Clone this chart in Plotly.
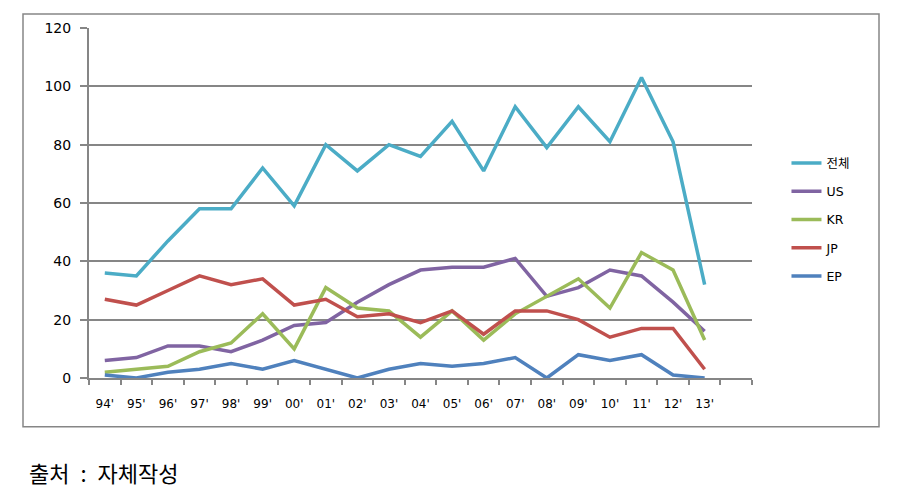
import plotly.graph_objects as go

years = ["94'", "95'", "96'", "97'", "98'", "99'", "00'", "01'", "02'", "03'",
         "04'", "05'", "06'", "07'", "08'", "09'", "10'", "11'", "12'", "13'"]
total = [36, 35, 47, 58, 58, 72, 59, 80, 71, 80, 76, 88, 71, 93, 79, 93, 81, 103, 81, 32]
us = [6, 7, 11, 11, 9, 13, 18, 19, 26, 32, 37, 38, 38, 41, 28, 31, 37, 35, 26, 16]
kr = [2, 3, 4, 9, 12, 22, 10, 31, 24, 23, 14, 23, 13, 22, 28, 34, 24, 43, 37, 13]
jp = [27, 25, 30, 35, 32, 34, 25, 27, 21, 22, 19, 23, 15, 23, 23, 20, 14, 17, 17, 3]
ep = [1, 0, 2, 3, 5, 3, 6, 3, 0, 3, 5, 4, 5, 7, 0, 8, 6, 8, 1, 0]

series = [
    ("전체", total, "#4BACC6"),
    ("US", us, "#8064A2"),
    ("KR", kr, "#9BBB59"),
    ("JP", jp, "#C0504D"),
    ("EP", ep, "#4F81BD"),
]

idx = list(range(len(years)))
fig = go.Figure()
for name, vals, color in series:
    fig.add_trace(go.Scatter(
        x=idx, y=vals, name=name, mode="lines", legendgroup=name,
        line=dict(color=color, width=3.5),
    ))

grid = "#868686"
# page body has an 8px margin, so the figure is 8px smaller on each axis
fig.update_layout(
    width=890, height=484,
    margin=dict(l=81, r=146, t=18, b=114),
    plot_bgcolor="white", paper_bgcolor="white",
    font=dict(family="DejaVu Sans", color="black"),
    showlegend=True,
    legend=dict(x=1.052, y=0.452, xanchor="left", yanchor="middle",
                font=dict(size=12.5, family="DejaVu Sans, Noto Sans CJK KR"),
                tracegroupgap=9, bgcolor="rgba(0,0,0,0)"),
    xaxis=dict(
        range=[-0.5, len(years) + 0.5],
        tickmode="array", tickvals=idx, ticktext=years,
        ticks="", ticklabelstandoff=14,
        tickfont=dict(size=12),
        showgrid=False, zeroline=False,
        showline=True, linecolor=grid, linewidth=2,
        minor=dict(tickmode="array",
                   tickvals=[i - 0.5 for i in range(len(years) + 2)],
                   ticks="outside", ticklen=5, tickcolor=grid, tickwidth=1.5,
                   showgrid=False),
    ),
    yaxis=dict(
        range=[0, 120], dtick=20, tick0=0,
        showgrid=True, gridcolor=grid, gridwidth=2,
        ticks="outside", ticklen=7, tickcolor=grid, tickwidth=2,
        tickfont=dict(size=14), ticklabelstandoff=6,
        showline=True, linecolor=grid, linewidth=2,
        zeroline=False,
    ),
    shapes=[dict(type="rect", xref="paper", yref="paper",
                 x0=(23 - 89) / 663, x1=(879 - 89) / 663,
                 y0=(378 - 427) / 352, y1=(378 - 12) / 352,
                 line=dict(color=grid, width=1.5), layer="below")],
    annotations=[dict(text="출처\u2002:\u2002자체작성", xref="paper", yref="paper",
                      x=(27 - 89) / 663, y=(378 - 473) / 352,
                      xanchor="left", yanchor="middle", showarrow=False,
                      font=dict(size=22, family="Noto Sans CJK KR", color="black"))],
)

fig.write_html("out.html")
